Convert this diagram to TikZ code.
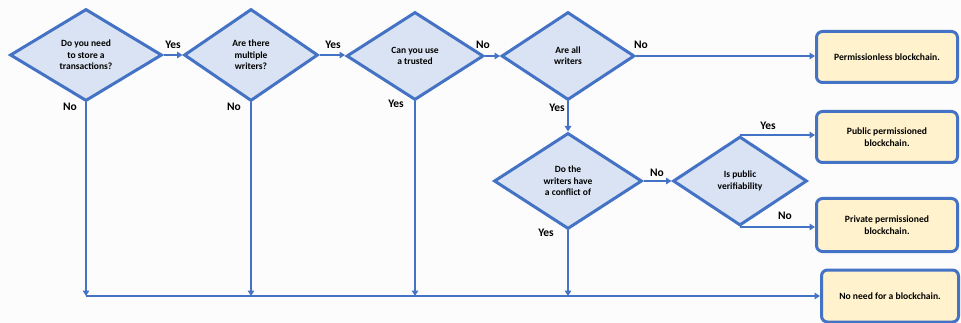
\documentclass[tikz,border=0pt]{standalone}
\usepackage{fontspec}
\setmainfont{Carlito}
\usetikzlibrary{shapes.geometric,arrows.meta}
\definecolor{lineblue}{HTML}{4472C4}
\definecolor{diafill}{HTML}{DAE3F3}
\definecolor{boxfill}{HTML}{FFF2CC}
\definecolor{pagebg}{HTML}{FCFCFD}
\tikzset{
  decision/.style={diamond, draw=lineblue, fill=diafill, line width=3pt,
    inner sep=0pt, align=center, font=\bfseries\fontsize{9.5}{11.3}\selectfont},
  outcome/.style={rectangle, rounded corners=6pt, draw=lineblue, fill=boxfill,
    line width=3pt, minimum width=141pt, minimum height=51pt, align=center,
    font=\bfseries\fontsize{9.6}{12}\selectfont},
  conn/.style={draw=lineblue, line width=1.8pt, -{Triangle[length=5.5pt,width=6.5pt]}},
  lbl/.style={font=\bfseries\fontsize{11.5}{13}\selectfont, inner sep=0pt}
}
\begin{document}
\begin{tikzpicture}[x=1pt,y=-1pt]
\useasboundingbox (0,0) rectangle (961,323);
\fill[pagebg] (0,0) rectangle (961,323);

% decisions
\node[decision, minimum width=152pt, minimum height=92pt] (d1) at (86,55)
  {Do you need\\to store a\\transactions?};
\node[decision, minimum width=134pt, minimum height=92pt] (d2) at (251,55)
  {Are there\\multiple\\writers?};
\node[decision, minimum width=137pt, minimum height=88pt] (d3) at (415,56)
  {Can you use\\a trusted};
\node[decision, minimum width=133pt, minimum height=88pt] (d4) at (568,56)
  {Are all\\writers};
\node[decision, minimum width=148pt, minimum height=96pt] (d5) at (568,181)
  {Do the\\writers have\\a conflict of};
\node[decision, minimum width=134pt, minimum height=89pt] (d6) at (740,181)
  {Is public\\verifiability};

% outcomes
\node[outcome] (b1) at (887,57) {Permissionless blockchain.};
\node[outcome] (b2) at (887,137) {Public permissioned\\blockchain.};
\node[outcome, minimum height=53pt] (b3) at (887,225) {Private permissioned\\blockchain.};
\node[outcome, minimum width=137pt, minimum height=52pt] (b4) at (890,296) {No need for a blockchain.};

% collector points on the bottom rail
\coordinate (r1) at (86,296);
\coordinate (r2) at (251,296);
\coordinate (r3) at (415,296);
\coordinate (r5) at (568,296);

% main chain
\draw[conn] (d1.east) -- (d1.east -| d2.west);
\draw[conn] (d2.east) -- (d2.east -| d3.west);
\draw[conn] (d3.east) -- (d4.west);
\draw[conn] (d4.east) -- (d4.east -| b1.west);
\draw[conn] (d4.south) -- (d5.north);
\draw[conn] (d5.east) -- (d6.west);
\draw[conn] (d6.north) -- (d6.north -| b2.west);
\draw[conn] (d6.south) -- (d6.south -| b3.west);

% drops to the rail
\draw[conn] (d1.south) -- (r1);
\draw[conn] (d2.south) -- (r2);
\draw[conn] (d3.south) -- (r3);
\draw[conn] (d5.south) -- (r5);
\draw[conn] (r1) -- (r1 -| b4.west);

% labels
\node[lbl] (l1) at (173,45) {Yes};
\node[lbl] (l2) at (333,45) {Yes};
\node[lbl] (l3) at (483,45) {No};
\node[lbl] (l4) at (641,45) {No};
\node[lbl] (l5) at (70,107) {No};
\node[lbl] (l6) at (234,107) {No};
\node[lbl] (l7) at (396,104) {Yes};
\node[lbl] (l8) at (557,108) {Yes};
\node[lbl] (l9) at (657,173) {No};
\node[lbl] (l10) at (768,126) {Yes};
\node[lbl] (l11) at (785,216) {No};
\node[lbl] (l12) at (546,233) {Yes};
\end{tikzpicture}
\end{document}
